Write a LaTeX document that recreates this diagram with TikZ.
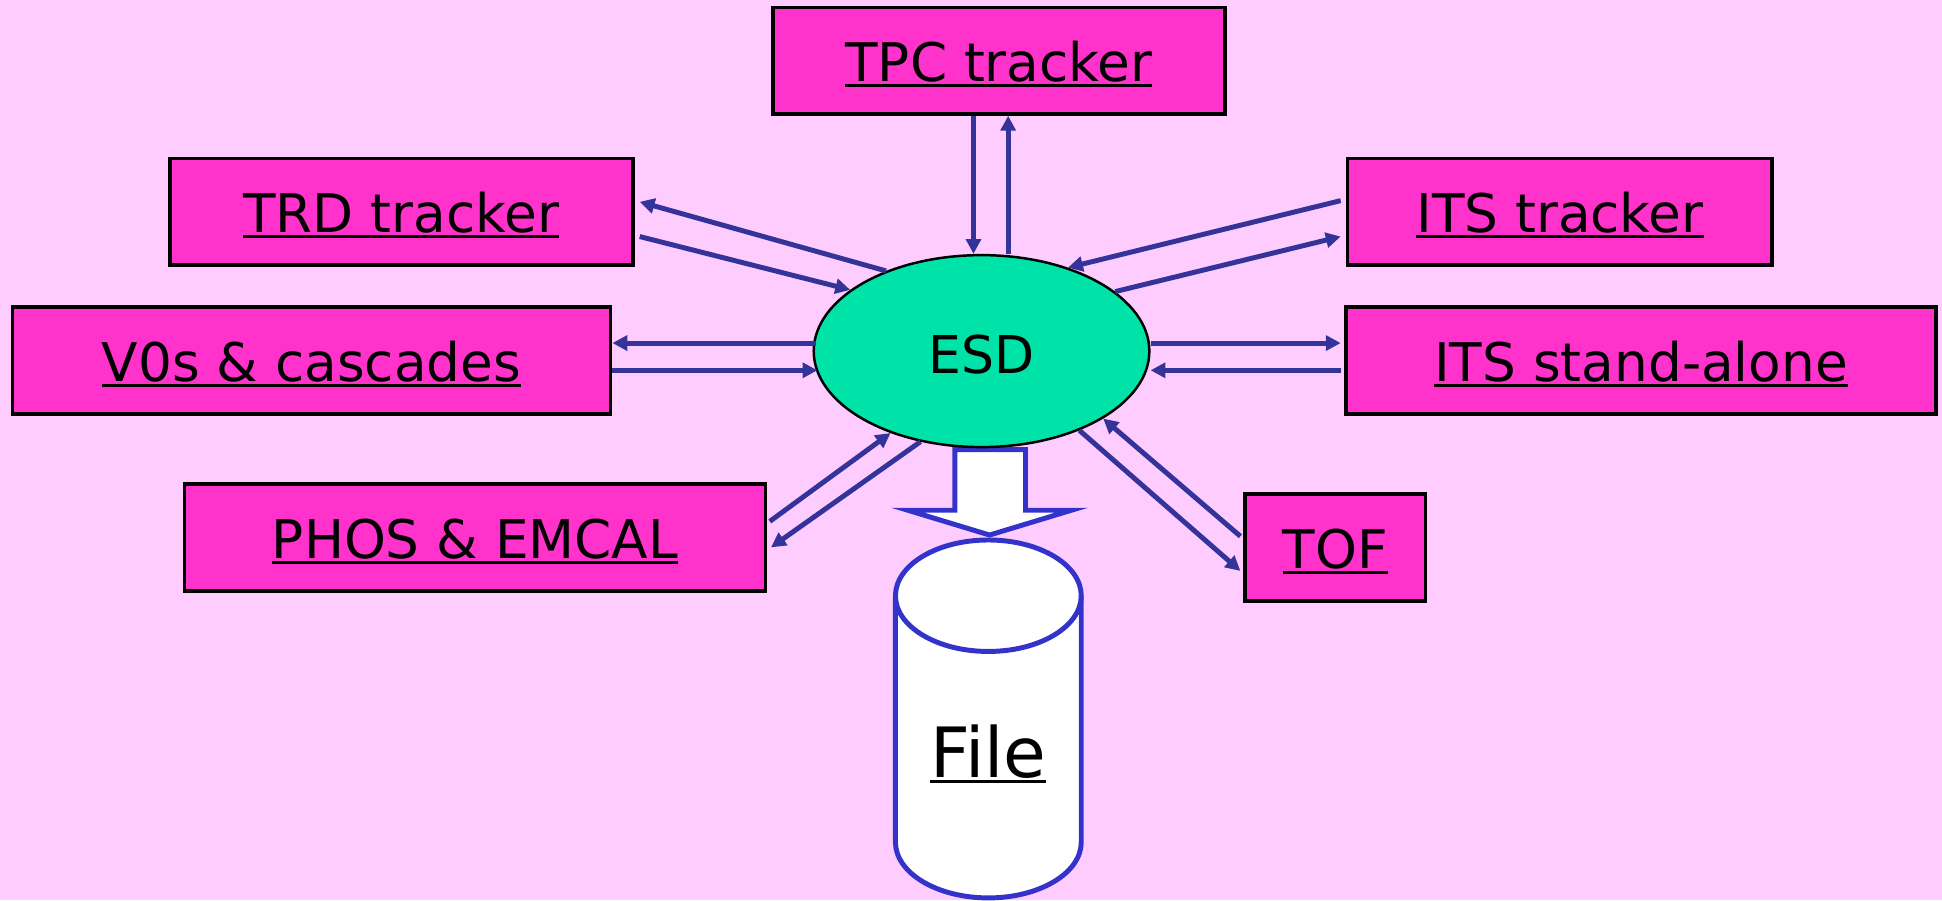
\documentclass[tikz,border=0pt]{standalone}
\usepackage{fontspec}
\setmainfont{DejaVu Sans}
\usetikzlibrary{arrows.meta,shapes.geometric,calc}
\definecolor{bgpink}{HTML}{FFCCFF}
\definecolor{boxpink}{HTML}{FF33CC}
\definecolor{esdgreen}{HTML}{00E3A8}
\definecolor{arrblue}{HTML}{333399}
\definecolor{cylblue}{HTML}{3333CC}
\newcommand{\ulx}[1]{\setbox0=\hbox{#1}\rlap{\rule[-4.5pt]{\wd0}{2.8pt}}\box0}
\tikzset{
  modbox/.style={draw=black, line width=3pt, fill=boxpink, inner sep=0pt,
    minimum height=86pt, text height=36pt, text depth=2pt,
    font=\fontsize{43}{50}\selectfont},
  link/.style={draw=arrblue, line width=4pt, -{Triangle[length=12pt,width=12pt]}},
}
\begin{document}
\begin{tikzpicture}[x=1pt,y=1pt]
\useasboundingbox[fill=bgpink] (0,0) rectangle (1568,727);

% modules
\node[modbox, minimum width=365pt] (tpc) at (806.5,678) {\ulx{TPC tracker}};
\node[modbox, minimum width=374pt] (trd) at (324,556) {\ulx{TRD tracker}};
\node[modbox, minimum width=343pt] (itst) at (1259.5,556) {\ulx{ITS tracker}};
\node[modbox, minimum width=483pt] (v0) at (251.5,436) {\ulx{V0s \& cascades}};
\node[modbox, minimum width=476pt] (itsa) at (1325,436) {\ulx{ITS stand-alone}};
\node[modbox, minimum width=469pt] (phos) at (383.5,293) {\ulx{PHOS \& EMCAL}};
\node[modbox, minimum width=146pt] (tof) at (1078,285) {\ulx{TOF}};

% block arrow to file
\draw[draw=cylblue, line width=4pt, fill=white, line join=miter]
  (771,364) -- (771,315) -- (733,315) -- (799,295) -- (865,315) -- (828,315) -- (828,364) -- cycle;

% ESD
\node[ellipse, draw=black, line width=2pt, fill=esdgreen, inner sep=0pt,
  minimum width=271pt, minimum height=155pt, text height=36pt, text depth=0pt,
  font=\fontsize{42}{50}\selectfont] (esd) at (792.5,443.5) {ESD};

% cylinder (file)
\draw[draw=cylblue, line width=4pt, fill=white]
  (723,246) -- (723,47) arc[start angle=180,end angle=360,x radius=75,y radius=45]
  -- (873,246) arc[start angle=0,end angle=180,x radius=75,y radius=45] -- cycle;
\draw[draw=cylblue, line width=4pt]
  (723,246) arc[start angle=180,end angle=360,x radius=75,y radius=45];
\node[inner sep=0pt, text height=44pt, text depth=0pt,
  font=\fontsize{56}{60}\selectfont] (file) at (798,121) {\ulx{File}};

% connectors
\path[link] ([xshift=-20.5pt]tpc.south) -- ([xshift=-20.5pt]tpc.south |- esd.north);
\path[link] ([xshift=7.5pt]tpc.south |- esd.north) -- ([xshift=7.5pt]tpc.south);

\path[link] (esd.140.6) -- ([xshift=4pt,yshift=8pt]trd.east);
\path[link] ([xshift=4pt,yshift=-20pt]trd.east) -- (esd.155.7);

\path[link] ([xshift=-4pt,yshift=9pt]itst.west) -- (esd.44.6);
\path[link] (esd.24.9) -- ([xshift=-4pt,yshift=-20pt]itst.west);

\path[link] ([xshift=3pt,yshift=14pt]v0.east -| esd.west) -- ([yshift=14pt]v0.east);
\path[link] ([yshift=-8pt]v0.east) -- ([xshift=4pt,yshift=-8pt]v0.east -| esd.west);

\path[link] ([yshift=14pt]itsa.west -| esd.east) -- ([xshift=-3pt,yshift=14pt]itsa.west);
\path[link] ([xshift=-3pt,yshift=-8pt]itsa.west) -- ([yshift=-8pt]itsa.west -| esd.east);

\path[link] ([xshift=2pt,yshift=13pt]phos.east) -- (esd.222.6);
\path[link] (esd.236.8) -- ([xshift=3pt,yshift=-8pt]phos.east);

\path[link] ([xshift=-2pt,yshift=9pt]tof.west) -- (esd.331.9);
\path[link] (esd.321.6) -- ([xshift=-2pt,yshift=-19pt]tof.west);
\end{tikzpicture}
\end{document}
